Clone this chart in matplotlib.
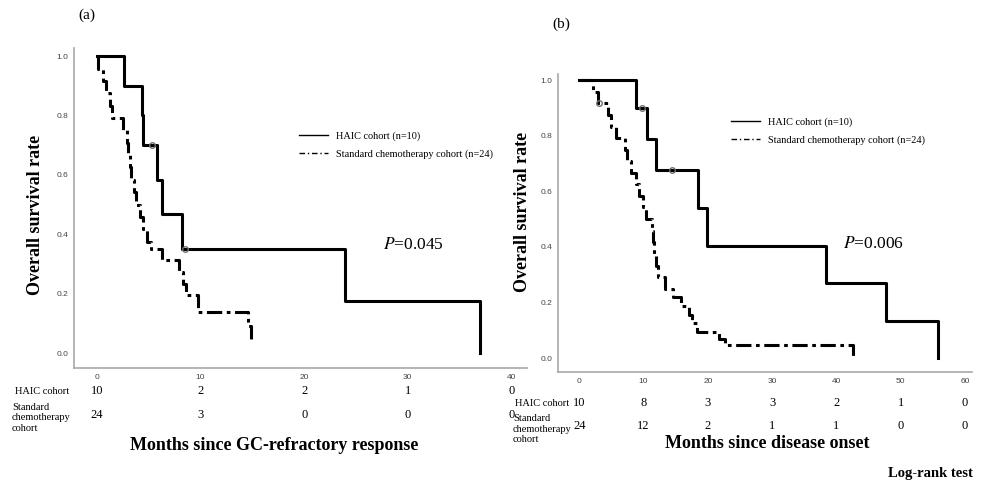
import numpy as np
import matplotlib.pyplot as plt
from matplotlib.lines import Line2D
from matplotlib import transforms

# (a) months since GC-refractory response
a_haic_t = [0, 2.6, 4.4, 4.5, 5.8, 6.3, 8.2, 23.9, 37.0]
a_haic_s = [1.0, 0.9, 0.8, 0.7, 0.583, 0.467, 0.35, 0.175, 0.0]
a_haic_cens_t = [5.3, 8.5]
a_haic_cens_s = [0.7, 0.35]
a_chemo_t = [0, 0.1, 0.6, 0.9, 1.3, 1.5, 2.5, 2.9, 3.0, 3.2, 3.3, 3.6, 3.8, 4.2,
             4.5, 4.8, 5.2, 6.3, 7.9, 8.3, 8.6, 9.8, 14.6, 14.9, 15.1]
a_chemo_s = [1.0, 0.958, 0.917, 0.875, 0.833, 0.792, 0.75, 0.708, 0.667, 0.625,
             0.583, 0.542, 0.5, 0.458, 0.417, 0.375, 0.352, 0.313, 0.273, 0.234,
             0.195, 0.137, 0.091, 0.045, 0.045]
a_ticks = [0, 10, 20, 30, 40]
a_risk_haic = [10, 2, 2, 1, 0]
a_risk_chemo = [24, 3, 0, 0, 0]

# (b) months since disease onset
b_haic_t = [0, 8.9, 10.6, 11.9, 18.5, 19.9, 38.4, 47.7, 55.8]
b_haic_s = [1.0, 0.9, 0.7875, 0.675, 0.54, 0.405, 0.27, 0.135, 0.0]
b_haic_cens_t = [9.8, 14.4]
b_haic_cens_s = [0.9, 0.675]
b_chemo_t = [0, 2.2, 2.9, 4.4, 5.0, 5.7, 7.1, 7.5, 8.0, 8.8, 9.3, 9.9, 10.4, 11.3,
             11.5, 11.7, 11.9, 12.2, 13.4, 14.6, 15.9, 17.1, 17.6, 18.3, 21.7,
             22.7, 42.6]
b_chemo_s = [1.0, 0.958, 0.917, 0.875, 0.833, 0.792, 0.75, 0.708, 0.667, 0.625,
             0.583, 0.542, 0.5, 0.458, 0.417, 0.375, 0.333, 0.292, 0.25, 0.219,
             0.188, 0.156, 0.125, 0.094, 0.07, 0.047, 0.0]
b_chemo_cens_t = [3.0]
b_chemo_cens_s = [0.917]
b_ticks = [0, 10, 20, 30, 40, 50, 60]
b_risk_haic = [10, 8, 3, 3, 2, 1, 0]
b_risk_chemo = [24, 12, 2, 1, 1, 0, 0]

y_ticks = [0.0, 0.2, 0.4, 0.6, 0.8, 1.0]

serif = 'Liberation Serif'
sans = 'Liberation Sans'
chemo_ls = (0, (5, 1.5, 1.2, 1.5))

fig = plt.figure(figsize=(9.87, 4.84), dpi=100)
W, H = 987.0, 484.0


def fx(px):
    return px / W


def fy(py):
    return 1 - py / H


def km_panel(rect, xlim, ylim, ticks, haic_t, haic_s, hc_t, hc_s,
             chemo_t, chemo_s, cc_t, cc_s):
    ax = fig.add_axes(rect)
    ax.step(haic_t, haic_s, where='post', color='black', lw=2.2)
    ax.step(chemo_t, chemo_s, where='post', color='black', lw=2.2,
            linestyle=chemo_ls)
    ax.plot(hc_t, hc_s, 'o', ms=4, mfc='none', mec='#707070', mew=1)
    if cc_t:
        ax.plot(cc_t, cc_s, 'o', ms=4, mfc='none', mec='#707070', mew=1)
    ax.set_xlim(*xlim)
    ax.set_ylim(*ylim)
    ax.set_xticks(ticks)
    ax.set_xticklabels([str(t) for t in ticks])
    ax.set_yticks(y_ticks)
    ax.set_yticklabels(['%.1f' % v for v in y_ticks])
    for s in ['top', 'right']:
        ax.spines[s].set_visible(False)
    for s in ['left', 'bottom']:
        ax.spines[s].set_color('#a8a8a8')
        ax.spines[s].set_linewidth(1.2)
    ax.tick_params(length=0, labelsize=6, labelcolor='#444444', pad=4)
    for lab in ax.get_xticklabels() + ax.get_yticklabels():
        lab.set_family(sans)
    return ax


ax1 = km_panel([fx(74), fy(368), fx(527 - 74), (368 - 48) / H],
               (-2.2, 41.5), (-0.05, 1.027), a_ticks,
               a_haic_t, a_haic_s, a_haic_cens_t, a_haic_cens_s,
               a_chemo_t, a_chemo_s, [], [])
ax2 = km_panel([fx(558), fy(372), fx(972 - 558), (372 - 74) / H],
               (-3.3, 61.1), (-0.05, 1.022), b_ticks,
               b_haic_t, b_haic_s, b_haic_cens_t, b_haic_cens_s,
               b_chemo_t, b_chemo_s, b_chemo_cens_t, b_chemo_cens_s)

# legends
handles = [Line2D([], [], color='black', lw=1),
           Line2D([], [], color='black', lw=1, linestyle=(0, (4, 2, 1, 2)))]
labels = ['HAIC cohort (n=10)', 'Standard chemotherapy cohort (n=24)']
for ax, (lx, ly) in [(ax1, (299, 131)), (ax2, (731, 117))]:
    ax.legend(handles, labels, loc='upper left',
              bbox_to_anchor=(fx(lx), fy(ly)), bbox_transform=fig.transFigure,
              frameon=False, prop={'family': serif, 'size': 7.4},
              handlelength=2.8, handletextpad=0.8, labelspacing=0.85,
              borderpad=0, borderaxespad=0)

# panel letters, axis titles, p-values
fig.text(fx(87), fy(15), '(a)', family=serif, fontsize=11, ha='center', va='center')
fig.text(fx(561), fy(24), '(b)', family=serif, fontsize=11, ha='center', va='center')
fig.text(fx(36), fy(215), 'Overall survival rate', family=serif, fontsize=13,
         fontweight='bold', rotation=90, ha='center', va='center')
fig.text(fx(523), fy(212), 'Overall survival rate', family=serif, fontsize=13,
         fontweight='bold', rotation=90, ha='center', va='center')
fig.text(fx(274), fy(445), 'Months since GC-refractory response', family=serif,
         fontsize=13, fontweight='bold', ha='center', va='center')
fig.text(fx(767), fy(443), 'Months since disease onset', family=serif,
         fontsize=13, fontweight='bold', ha='center', va='center')
fig.text(fx(973), fy(473), 'Log-rank test', family=serif, fontsize=10.5,
         fontweight='bold', ha='right', va='center')
fig.text(fx(413), fy(245), r'$\mathit{P}$=0.045', family=serif, fontsize=12.5,
         ha='center', va='center', math_fontfamily='stix')
fig.text(fx(873), fy(244), r'$\mathit{P}$=0.006', family=serif, fontsize=12.5,
         ha='center', va='center', math_fontfamily='stix')

# numbers at risk
for ax, ticks, rh, rc, yh, yc in [(ax1, a_ticks, a_risk_haic, a_risk_chemo, 391, 415),
                                  (ax2, b_ticks, b_risk_haic, b_risk_chemo, 403, 426)]:
    tr = transforms.blended_transform_factory(ax.transData, fig.transFigure)
    for t, h, c in zip(ticks, rh, rc):
        ax.text(t, fy(yh), str(h), transform=tr, family=serif, fontsize=9,
                ha='center', va='center', clip_on=False)
        ax.text(t, fy(yc), str(c), transform=tr, family=serif, fontsize=9,
                ha='center', va='center', clip_on=False)

fig.text(fx(15), fy(391), 'HAIC cohort', family=serif, fontsize=7.5, ha='left', va='center')
fig.text(fx(12), fy(418), 'Standard\nchemotherapy\ncohort', family=serif, fontsize=7.5,
         ha='left', va='center', linespacing=1.25)
fig.text(fx(515), fy(403), 'HAIC cohort', family=serif, fontsize=7.5, ha='left', va='center')
fig.text(fx(513), fy(429), 'Standard\nchemotherapy\ncohort', family=serif, fontsize=7.5,
         ha='left', va='center', linespacing=1.25)

fig.savefig('out.png', dpi=100)
